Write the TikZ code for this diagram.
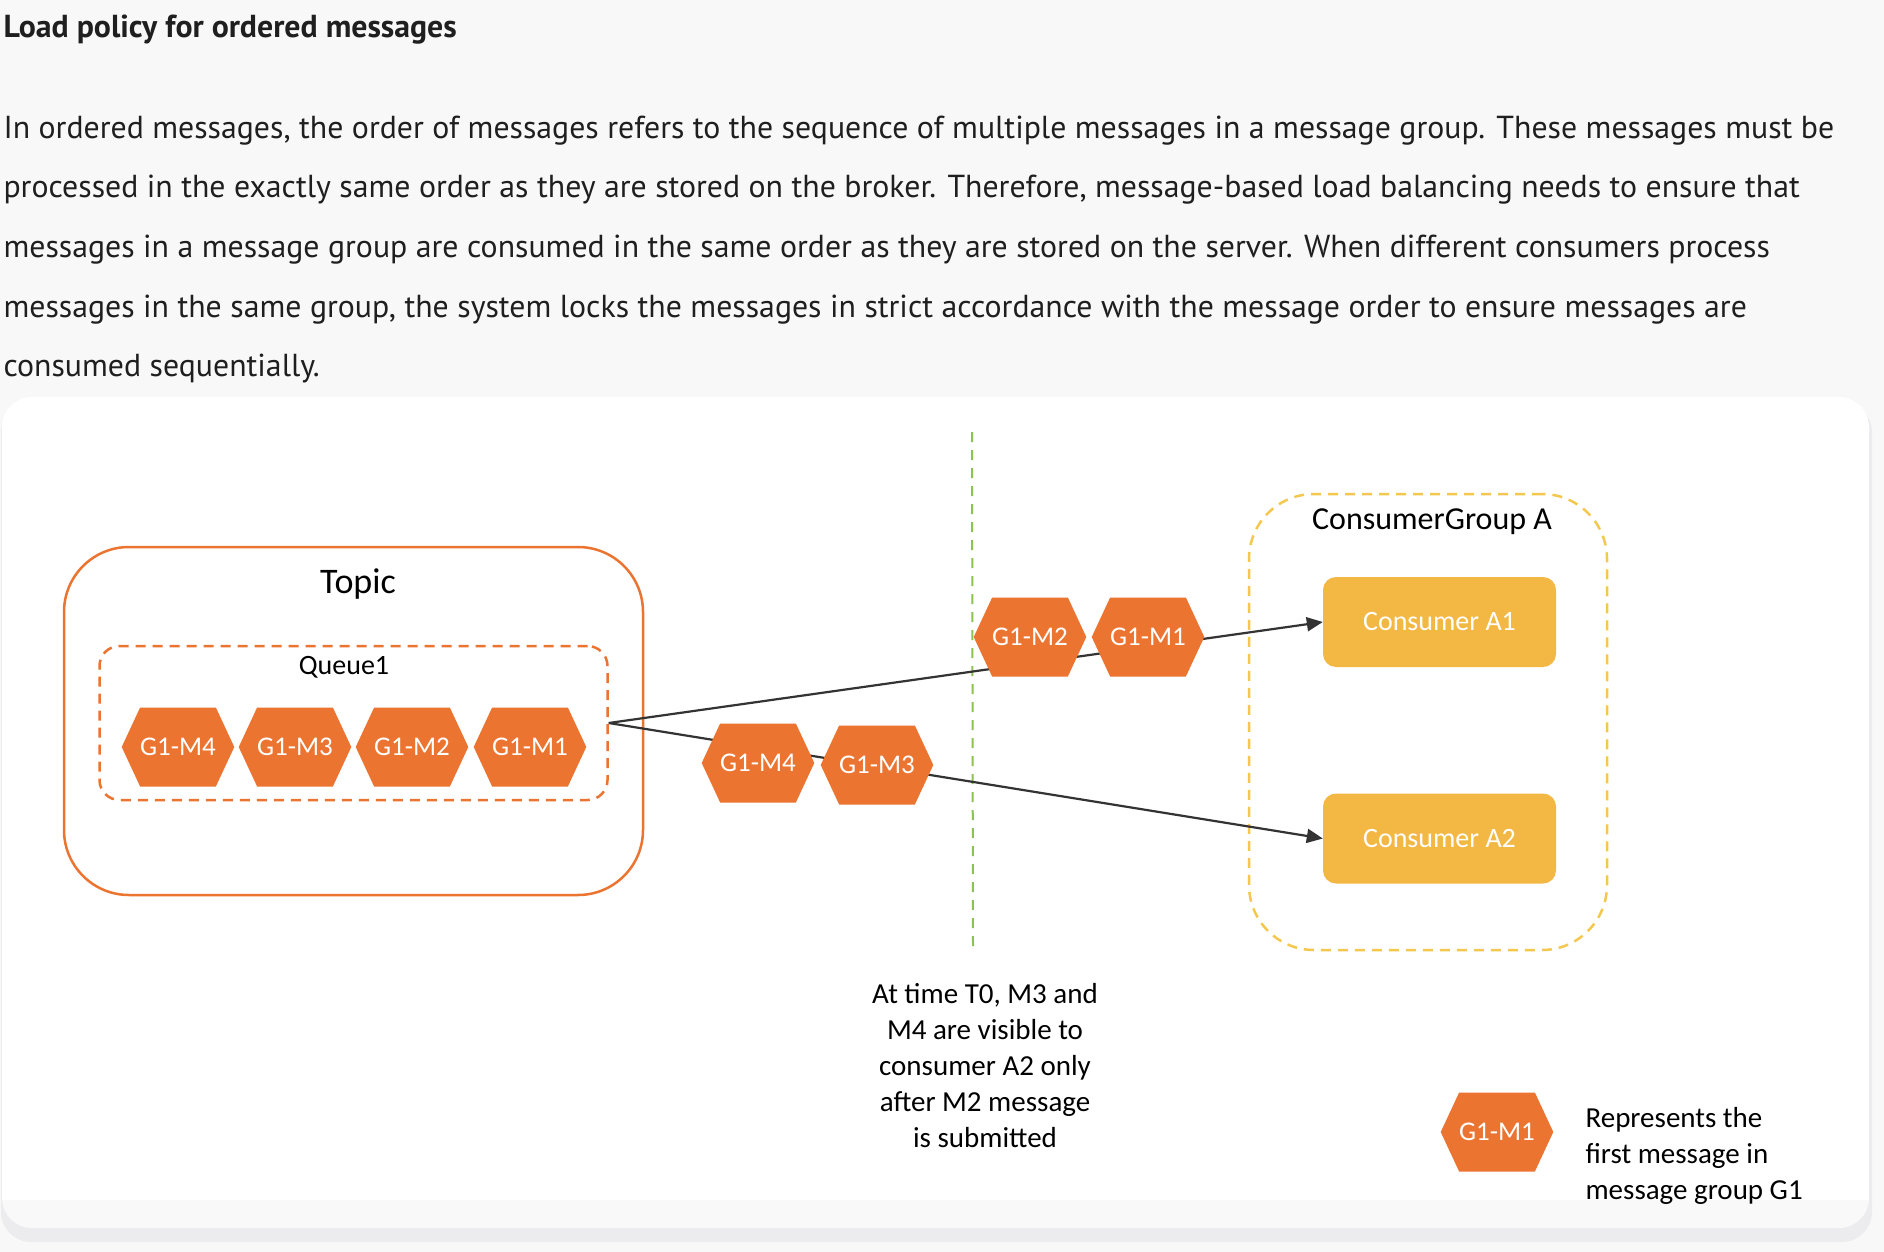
\documentclass[tikz,border=0pt]{standalone}
\usepackage{fontspec}
\setmainfont{PT Sans}
\newfontfamily\diagfont{Carlito}
\usetikzlibrary{shapes.symbols,arrows.meta}
\definecolor{pagebg}{HTML}{F8F8F9}
\definecolor{shadowgray}{HTML}{ECECEE}
\definecolor{cardbg}{HTML}{F9F9FA}
\definecolor{bodytext}{HTML}{1F1F1F}
\definecolor{msgorange}{HTML}{EC7431}
\definecolor{consumerfill}{HTML}{F3B843}
\definecolor{groupyellow}{HTML}{F4C84E}
\definecolor{t0green}{HTML}{8CC350}
\definecolor{linkgray}{HTML}{333333}
\def\bodyfont{\fontsize{31.8}{36}\selectfont}
\def\labelfont#1{\diagfont\fontsize{#1}{36}\selectfont}

\begin{document}
\begin{tikzpicture}[x=1pt,y=-1pt,
	msg/.style={signal, signal to=west and east, signal pointer angle=130, fill=msgorange, text=white,
		minimum width=112pt, minimum height=79pt, inner sep=0pt, font=\labelfont{27}},
	consumer/.style={rectangle, rounded corners=13pt, fill=consumerfill, text=white,
		minimum width=233pt, minimum height=90pt, font=\labelfont{28}},
	link/.style={draw=linkgray, line width=2.2pt, -{Triangle[length=16pt,width=14pt]}}]
			%%%%% START %%%%%
			
			\useasboundingbox (0,0) rectangle (1884,1252);
			\fill[pagebg] (0,0) rectangle (1884,1252);
			
			% card
			\fill[shadowgray, rounded corners=30pt] (1,402) rectangle (1872,1242);
			\fill[cardbg, rounded corners=30pt] (2,397) rectangle (1869,1228);
			\begin{scope}
				\clip[rounded corners=30pt] (2,397) rectangle (1869,1228);
				\fill[white] (2,397) rectangle (1869,1200);
			\end{scope}
			
			% text above the picture
			\node[anchor=base west, text=bodytext, font=\bfseries\fontsize{31.8}{36}\selectfont] (title) at (0,38) {Load policy for ordered messages};
			\node[anchor=base west, text=bodytext, font=\bodyfont] (par1) at (0,139) {In ordered messages, the order of messages refers to the sequence of multiple messages in a message group. These messages must be};
			\node[anchor=base west, text=bodytext, font=\bodyfont] (par2) at (0,198) {processed in the exactly same order as they are stored on the broker. Therefore, message-based load balancing needs to ensure that};
			\node[anchor=base west, text=bodytext, font=\bodyfont] (par3) at (0,257) {messages in a message group are consumed in the same order as they are stored on the server. When different consumers process};
			\node[anchor=base west, text=bodytext, font=\bodyfont] (par4) at (0,317) {messages in the same group, the system locks the messages in strict accordance with the message order to ensure messages are};
			\node[anchor=base west, text=bodytext, font=\bodyfont] (par5) at (0,376) {consumed sequentially.};
			
			% topic and queue
			\node[draw=msgorange, line width=2.5pt, rounded corners=65pt, minimum width=579pt, minimum height=348pt] (topic) at (353.5,721) {};
			\node[font=\labelfont{36}] (topiclabel) at (358,584) {Topic};
			\node[draw=msgorange, line width=2.5pt, dash pattern=on 10pt off 7pt, rounded corners=20pt, minimum width=508pt, minimum height=154pt] (queue) at (353.5,723) {};
			\node[font=\labelfont{28}] (queuelabel) at (344,667) {Queue1};
			
			% consumer group
			\node[draw=groupyellow, line width=2.5pt, dash pattern=on 10pt off 7pt, rounded corners=65pt, minimum width=358pt, minimum height=456pt] (group) at (1428,722) {};
			\node[font=\labelfont{32}] (grouplabel) at (1432,522) {ConsumerGroup A};
			\node[consumer] (ca1) at (1439.5,622) {Consumer A1};
			\node[consumer] (ca2) at (1439.5,838.5) {Consumer A2};
			
			% time T0
			\coordinate (t0top) at (972,432);
			\coordinate (t0bot) at (973,949);
			\draw[t0green, line width=2pt, dash pattern=on 10pt off 8pt] (t0top) -- (t0bot);
			
			\draw[link] (queue.east) -- (ca1.west);
			\draw[link] (queue.east) -- (ca2.west);
			
			% messages
			\foreach \i/\x in {4/178,3/295,2/412,1/530}
				\node[msg] (q\i) at (\x,747) {G1-M\i};
			\node[msg] (m4) at (758,763) {G1-M4};
			\node[msg] (m3) at (877,765) {G1-M3};
			\node[msg] (m2) at (1030,637) {G1-M2};
			\node[msg] (m1) at (1148,637) {G1-M1};
			
			\node[align=center, font=\labelfont{29}] (note) at (985,1066) {At time T0, M3 and\\M4 are visible to\\consumer A2 only\\after M2 message\\is submitted};
			
			% legend
			\node[msg] (legend) at (1497,1132) {G1-M1};
			\node[anchor=west, align=left, font=\labelfont{29}] (legendtext) at (1582,1156) {Represents the\\first message in\\message group G1};
			
			%%%%% END %%%%%
\end{tikzpicture}
\end{document}
